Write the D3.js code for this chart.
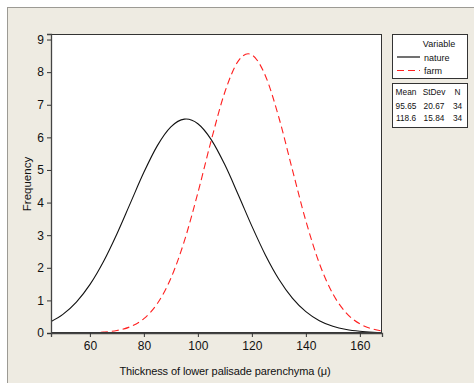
<!DOCTYPE html>
<html>
<head>
<meta charset="utf-8">
<script src="https://cdn.jsdelivr.net/npm/d3@7"></script>
<style>
  html, body { margin: 0; padding: 0; background: #ffffff; }
  svg { display: block; }
  text { font-family: "Liberation Sans", Arial, sans-serif; fill: #111; }
</style>
</head>
<body>
<svg id="chart" width="474" height="383"></svg>
<script>
// Fitted frequency curves (thickness in µ -> expected frequency)
const natureX = [45, 50, 55, 60, 65, 70, 75, 80, 85, 90, 95, 95.65, 100, 105, 110, 115, 120, 125, 130, 135, 140, 145, 150, 155, 160, 165, 170];
const natureY = [0.326, 0.573, 0.949, 1.483, 2.186, 3.039, 3.984, 4.927, 5.746, 6.321, 6.559, 6.562, 6.418, 5.924, 5.157, 4.234, 3.278, 2.395, 1.650, 1.072, 0.657, 0.379, 0.207, 0.106, 0.052, 0.024, 0.010];
const farmX = [60, 65, 70, 75, 80, 85, 90, 95, 100, 105, 110, 115, 118.6, 120, 125, 130, 135, 140, 145, 150, 155, 160, 165, 170];
const farmY = [0.009, 0.028, 0.077, 0.194, 0.440, 0.903, 1.678, 2.823, 4.298, 5.923, 7.390, 8.345, 8.563, 8.530, 7.892, 6.609, 5.010, 3.438, 2.135, 1.201, 0.611, 0.281, 0.117, 0.044];

const seriesNames = ["nature", "farm"];
const seriesColors = ["#111111", "#ff2020"];
const statHeader = ["Mean", "StDev", "N"];
const statMean = ["95.65", "118.6"];
const statSd = ["20.67", "15.84"];
const statN = ["34", "34"];

const xTicks = [60, 80, 100, 120, 140, 160];
const yTicks = [0, 1, 2, 3, 4, 5, 6, 7, 8, 9];

const svg = d3.select("#chart");

// panel background
svg.append("rect")
  .attr("x", 7.5).attr("y", 7.5)
  .attr("width", 480).attr("height", 390)
  .attr("fill", "#eeebe2").attr("stroke", "#9c9a94");

const plot = { left: 51, top: 34, right: 382, bottom: 333 };

const x = d3.scaleLinear().domain([45.6, 168.2]).range([plot.left, plot.right]);
const y = d3.scaleLinear().domain([0, 9.17]).range([plot.bottom, plot.top]);

svg.append("defs").append("clipPath").attr("id", "clip")
  .append("rect")
  .attr("x", plot.left).attr("y", plot.top)
  .attr("width", plot.right - plot.left).attr("height", plot.bottom - plot.top);

svg.append("rect")
  .attr("x", plot.left).attr("y", plot.top)
  .attr("width", plot.right - plot.left).attr("height", plot.bottom - plot.top)
  .attr("fill", "#ffffff");

const line = d3.line()
  .x(d => x(d[0]))
  .y(d => y(d[1]))
  .curve(d3.curveMonotoneX);

const g = svg.append("g").attr("clip-path", "url(#clip)");

g.append("path")
  .datum(natureX.map((v, i) => [v, natureY[i]]))
  .attr("d", line)
  .attr("fill", "none")
  .attr("stroke", seriesColors[0])
  .attr("stroke-width", 1.1);

g.append("path")
  .datum(farmX.map((v, i) => [v, farmY[i]]))
  .attr("d", line)
  .attr("fill", "none")
  .attr("stroke", seriesColors[1])
  .attr("stroke-width", 1.1)
  .attr("stroke-dasharray", "7,4");

// plot frame
svg.append("rect")
  .attr("x", plot.left + 0.5).attr("y", plot.top + 0.5)
  .attr("width", plot.right - plot.left - 1).attr("height", plot.bottom - plot.top - 1)
  .attr("fill", "none").attr("stroke", "#333").attr("stroke-width", 1);

// axes
const xAxis = svg.append("g")
  .attr("transform", `translate(0,${plot.bottom})`)
  .call(d3.axisBottom(x).tickValues(xTicks).tickSize(4).tickPadding(4));
const yAxis = svg.append("g")
  .attr("transform", `translate(${plot.left},0)`)
  .call(d3.axisLeft(y).tickValues(yTicks).tickSize(4).tickPadding(3));

[xAxis, yAxis].forEach(a => {
  a.select(".domain").attr("stroke", "#444").attr("stroke-width", 1.3);
  a.selectAll(".tick line").attr("stroke", "#333");
  a.selectAll(".tick text")
    .attr("font-family", "'Liberation Sans', Arial, sans-serif")
    .attr("font-size", 12).attr("fill", "#111");
});

svg.append("text")
  .attr("x", 225).attr("y", 375)
  .attr("text-anchor", "middle")
  .attr("font-size", 11)
  .attr("letter-spacing", -0.1)
  .text("Thickness of lower palisade parenchyma (\u03bc)");

svg.append("text")
  .attr("transform", "translate(31,184) rotate(-90)")
  .attr("text-anchor", "middle")
  .attr("font-size", 11.5)
  .text("Frequency");

// legend: series
const lg = svg.append("g");
lg.append("rect")
  .attr("x", 392.5).attr("y", 34.5).attr("width", 75).attr("height", 44)
  .attr("fill", "#fff").attr("stroke", "#333");
lg.append("text").attr("x", 439).attr("y", 47).attr("text-anchor", "middle")
  .attr("font-size", 9).text("Variable");
seriesNames.forEach((name, i) => {
  const yy = 57 + i * 13.5;
  lg.append("line")
    .attr("x1", 397).attr("x2", 420).attr("y1", yy).attr("y2", yy)
    .attr("stroke", seriesColors[i]).attr("stroke-width", 1.2)
    .attr("stroke-dasharray", i === 1 ? "7,4" : null);
  lg.append("text").attr("x", 424).attr("y", yy + 3.5)
    .attr("font-size", 9).text(name);
});

// legend: summary statistics
lg.append("rect")
  .attr("x", 392.5).attr("y", 83.5).attr("width", 75).attr("height", 44)
  .attr("fill", "#fff").attr("stroke", "#333");
const colX = [406, 434, 457.5];
statHeader.forEach((h, j) => {
  lg.append("text").attr("x", colX[j]).attr("y", 95)
    .attr("text-anchor", "middle").attr("font-size", 8.3).text(h);
});
statMean.forEach((m, i) => {
  const yy = 109 + i * 12;
  [m, statSd[i], statN[i]].forEach((v, j) => {
    lg.append("text").attr("x", colX[j]).attr("y", yy)
      .attr("text-anchor", "middle").attr("font-size", 8.3).text(v);
  });
});
</script>
</body>
</html>
